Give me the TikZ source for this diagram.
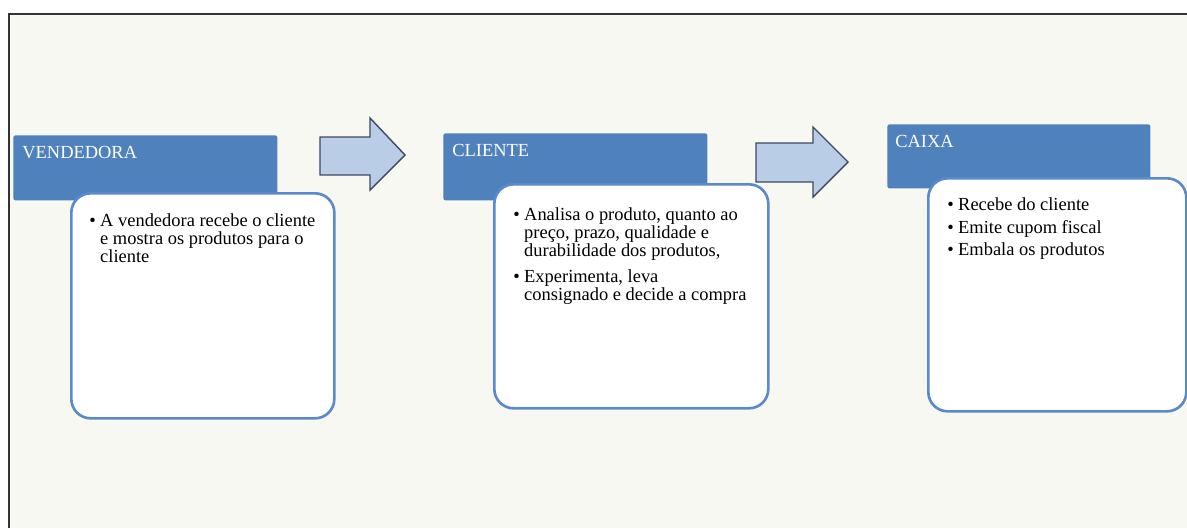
\documentclass[tikz,border=0pt]{standalone}
\usepackage{fontspec}
\setmainfont{Liberation Serif}
\definecolor{headblue}{HTML}{4F81BD}
\definecolor{bodyblue}{HTML}{5A89CC}
\definecolor{arrowfill}{HTML}{B9CDE6}
\definecolor{arrowline}{HTML}{3E4A62}
\definecolor{paper}{HTML}{F8F8F3}
\newcommand{\pxu}{0.02cm}
\newcommand{\boxfont}{\fontsize{10.5}{10.4}\selectfont}

\begin{document}
\begin{tikzpicture}[x=0.02cm,y=-0.02cm,
  headbox/.style={fill=headblue,draw=none,rounded corners=1.2pt,anchor=north west,inner sep=0pt},
  headtext/.style={text=white,font=\boxfont,anchor=north west,inner sep=0pt},
  bodybox/.style={fill=white,draw=bodyblue,line width=1.5pt,rounded corners=11pt,anchor=north west,inner sep=0pt},
  bodytext/.style={font=\boxfont,anchor=north west,inner sep=0pt,align=left},
  blockarrow/.style={fill=arrowfill,draw=arrowline,line width=0.8pt,line join=miter}]
\useasboundingbox (0,0) rectangle (1187,528);
\fill[white] (0,0) rectangle (1187,528);\fill[paper] (9,14) rectangle (1187,528);
\draw[line width=1.1pt,black!80] (9,528) -- (9,14) -- (1187,14);

\node[headbox,minimum width=264*\pxu,minimum height=65*\pxu] (vendhead) at (13,135) {};
\node[headtext] (vendlabel) at ([shift={(9,11)}]vendhead.north west) {VENDEDORA};
\node[bodybox,minimum width=263*\pxu,minimum height=225*\pxu] (vendbody) at (70,192) {};
\node[bodytext] (vendtext) at ([shift={(19,21)}]vendbody.north west) {\begin{tabular}{@{}l@{\hspace{2.5pt}}l@{}}
\textbullet & A vendedora recebe o cliente\\ & e mostra os produtos para o\\ & cliente\end{tabular}};

\node[headbox,minimum width=264*\pxu,minimum height=67*\pxu] (clihead) at (443,133) {};
\node[headtext] (clilabel) at ([shift={(9,11)}]clihead.north west) {CLIENTE};
\node[bodybox,minimum width=274*\pxu,minimum height=224*\pxu] (clibody) at (493,183) {};
\node[bodytext] (clitext) at ([shift={(20,24)}]clibody.north west) {\begin{tabular}{@{}l@{\hspace{2.5pt}}l@{}}
\textbullet & Analisa o produto, quanto ao\\ & preço, prazo, qualidade e\\ & durabilidade dos produtos,\\[4pt]
\textbullet & Experimenta, leva\\ & consignado e decide a compra\end{tabular}};

\node[headbox,minimum width=263*\pxu,minimum height=64*\pxu] (caixahead) at (887,124) {};
\node[headtext] (caixalabel) at ([shift={(8,11)}]caixahead.north west) {CAIXA};
\node[bodybox,minimum width=258*\pxu,minimum height=233*\pxu] (caixabody) at (927,177) {};
\node[bodytext] (caixatext) at ([shift={(20,20)}]caixabody.north west) {\begin{tabular}{@{}l@{\hspace{2.5pt}}l@{}}
\textbullet & Recebe do cliente\\[2.5pt] \textbullet & Emite cupom fiscal\\[2.5pt] \textbullet & Embala os produtos\end{tabular}};

\draw[blockarrow] (320,137) -- (370,137) -- (370,118) -- (405,155) -- (370,190) -- (370,175) -- (320,175) -- cycle;
\draw[blockarrow] (756,143) -- (813,143) -- (813,127) -- (848,162) -- (813,197) -- (813,182) -- (756,182) -- cycle;
\end{tikzpicture}
\end{document}
